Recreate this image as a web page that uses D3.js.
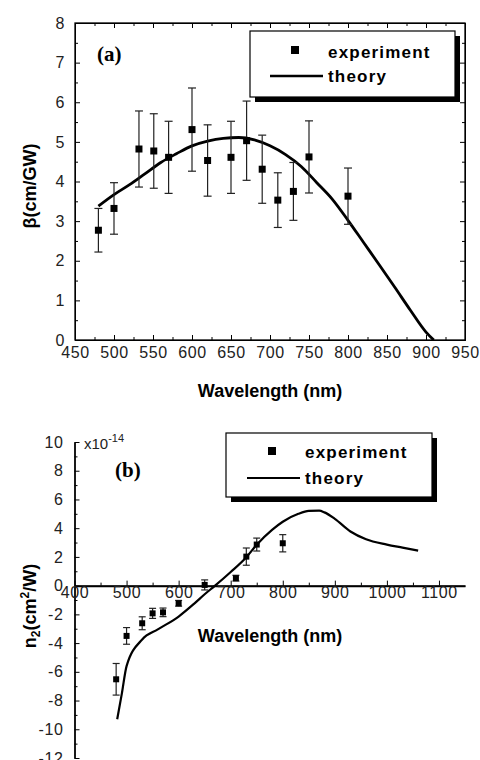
<!DOCTYPE html>
<html>
<head>
<meta charset="utf-8">
<script src="https://cdn.jsdelivr.net/npm/d3@7"></script>
<style>
  body { margin: 0; background: #fff; }
  svg { display: block; font-family: "Liberation Sans", Arial, sans-serif; }
  .tick text { font-size: 16px; letter-spacing: 0.6px; fill: #222; }
  .axisTitle { font-size: 18px; font-weight: bold; }
  .legendText { font-size: 17px; font-weight: bold; letter-spacing: 1.2px; }
  .panelTag { font-family: "Liberation Serif", "Times New Roman", serif; font-size: 21px; font-weight: bold; }
</style>
</head>
<body>
<div id="chart"></div>
<script>
// panel (a): two photon absorption
var aWave = [480, 500, 532, 551, 570, 600, 620, 650, 670, 690, 710, 730, 750, 800];
var aBeta = [2.77, 3.32, 4.82, 4.77, 4.61, 5.31, 4.53, 4.61, 5.03, 4.31, 3.53, 3.75, 4.62, 3.63];
var aErr = [0.55, 0.65, 0.96, 0.94, 0.91, 1.05, 0.9, 0.91, 1.0, 0.86, 0.69, 0.73, 0.91, 0.71];
var aTheoryWave = [480, 500, 520, 540, 560, 580, 600, 620, 640, 660, 680, 700, 720, 740, 760, 780, 800, 820, 840, 860, 880, 900, 910];
var aTheoryBeta = [3.38, 3.67, 3.92, 4.2, 4.48, 4.7, 4.9, 5.02, 5.09, 5.11, 5.05, 4.9, 4.68, 4.38, 3.97, 3.55, 3.02, 2.46, 1.9, 1.33, 0.75, 0.2, 0];
var aXTicks = [450, 500, 550, 600, 650, 700, 750, 800, 850, 900, 950];
var aYTicks = [0, 1, 2, 3, 4, 5, 6, 7, 8];

// panel (b): nonlinear refraction
var bWave = [480, 500, 530, 550, 570, 600, 650, 710, 730, 750, 800];
var bN2 = [-6.52, -3.5, -2.62, -1.93, -1.86, -1.23, 0.05, 0.52, 2.02, 2.86, 2.95];
var bErr = [1.1, 0.58, 0.45, 0.35, 0.3, 0.2, 0.35, 0.2, 0.6, 0.45, 0.6];
var bTheoryWave = [482, 491, 500, 530, 560, 600, 630, 650, 670, 700, 730, 750, 780, 800, 830, 850, 870, 880, 900, 930, 960, 1000, 1030, 1060];
var bTheoryN2 = [-9.3, -7.5, -5.6, -3.75, -3.05, -2.15, -1.25, -0.6, 0, 0.95, 1.98, 2.85, 3.9, 4.45, 5.0, 5.2, 5.22, 5.1, 4.65, 3.77, 3.23, 2.86, 2.65, 2.44];
var bXTicks = [400, 500, 600, 700, 800, 900, 1000, 1100];
var bYTicks = [-12, -10, -8, -6, -4, -2, 0, 2, 4, 6, 8, 10];

var svgWidth = 480;
var svgHeight = 760;

// plain labels, hyphen minus, no thousands comma
var plain = function(d) { return String(d); };

var svg = d3.select("#chart")
  .append("svg")
  .attr("width", svgWidth)
  .attr("height", svgHeight);

// ---------- panel (a) ----------
var xA = d3.scaleLinear().domain([450, 950]).range([75, 465]);
var yA = d3.scaleLinear().domain([0, 8]).range([340, 23]);

var gA = svg.append("g");

// frame
gA.append("rect")
  .attr("x", 75).attr("y", 23)
  .attr("width", 390).attr("height", 317)
  .attr("fill", "none").attr("stroke", "#000").attr("stroke-width", 1.3);

// minor ticks on all four sides
gA.append("g").attr("transform", "translate(0,340)")
  .call(d3.axisBottom(xA).tickValues(d3.range(475, 950, 50)).tickSize(-3).tickSizeOuter(0).tickFormat(""));
gA.append("g").attr("transform", "translate(0,23)")
  .call(d3.axisTop(xA).tickValues(d3.range(475, 950, 50)).tickSize(-3).tickSizeOuter(0).tickFormat(""));
gA.append("g").attr("transform", "translate(75,0)")
  .call(d3.axisLeft(yA).tickValues(d3.range(0.5, 8, 1)).tickSize(-3).tickSizeOuter(0).tickFormat(""));
gA.append("g").attr("transform", "translate(465,0)")
  .call(d3.axisRight(yA).tickValues(d3.range(0.5, 8, 1)).tickSize(-3).tickSizeOuter(0).tickFormat(""));

// major ticks
gA.append("g").attr("transform", "translate(0,340)")
  .call(d3.axisBottom(xA).tickValues(aXTicks).tickFormat(plain).tickSize(-5).tickSizeOuter(0).tickPadding(7));
gA.append("g").attr("transform", "translate(0,23)")
  .call(d3.axisTop(xA).tickValues(aXTicks).tickSize(-5).tickSizeOuter(0).tickFormat(""));
gA.append("g").attr("transform", "translate(75,0)")
  .call(d3.axisLeft(yA).tickValues(aYTicks).tickFormat(plain).tickSize(-5).tickSizeOuter(0).tickPadding(10));
gA.append("g").attr("transform", "translate(465,0)")
  .call(d3.axisRight(yA).tickValues(aYTicks).tickSize(-5).tickSizeOuter(0).tickFormat(""));

// theory curve
gA.append("path")
  .datum(aTheoryWave.map(function(w, i) { return [w, aTheoryBeta[i]]; }))
  .attr("fill", "none")
  .attr("stroke", "#000")
  .attr("stroke-width", 2.8)
  .attr("d", d3.line().x(d => xA(d[0])).y(d => yA(d[1])).curve(d3.curveMonotoneX));

// error bars + points
var aPts = aWave.map(function(w, i) { return { w: w, v: aBeta[i], e: aErr[i] }; });
var aBars = gA.selectAll(".errA").data(aPts).enter().append("g").attr("class", "errA");
aBars.append("line")
  .attr("x1", d => xA(d.w)).attr("x2", d => xA(d.w))
  .attr("y1", d => yA(d.v - d.e)).attr("y2", d => yA(d.v + d.e))
  .attr("stroke", "#222").attr("stroke-width", 1.2);
aBars.append("line")
  .attr("x1", d => xA(d.w) - 4).attr("x2", d => xA(d.w) + 4)
  .attr("y1", d => yA(d.v + d.e)).attr("y2", d => yA(d.v + d.e))
  .attr("stroke", "#222").attr("stroke-width", 1.2);
aBars.append("line")
  .attr("x1", d => xA(d.w) - 4).attr("x2", d => xA(d.w) + 4)
  .attr("y1", d => yA(d.v - d.e)).attr("y2", d => yA(d.v - d.e))
  .attr("stroke", "#222").attr("stroke-width", 1.2);
aBars.append("rect")
  .attr("x", d => xA(d.w) - 3.5).attr("y", d => yA(d.v) - 3.5)
  .attr("width", 7).attr("height", 7).attr("fill", "#000");

// legend (a)
gA.append("rect").attr("x", 255).attr("y", 36).attr("width", 205).attr("height", 66).attr("fill", "#000");
gA.append("rect").attr("x", 250).attr("y", 31).attr("width", 205).attr("height", 66)
  .attr("fill", "#fff").attr("stroke", "#000").attr("stroke-width", 1.2);
gA.append("rect").attr("x", 291).attr("y", 46).attr("width", 8).attr("height", 8).attr("fill", "#000");
gA.append("text").attr("class", "legendText").attr("x", 328).attr("y", 58).text("experiment");
gA.append("line").attr("x1", 270).attr("x2", 323).attr("y1", 76).attr("y2", 76)
  .attr("stroke", "#000").attr("stroke-width", 2.5);
gA.append("text").attr("class", "legendText").attr("x", 328).attr("y", 82).text("theory");

gA.append("text").attr("class", "panelTag").attr("x", 97).attr("y", 61).text("(a)");

gA.append("text")
  .attr("class", "axisTitle")
  .attr("x", 270).attr("y", 397)
  .attr("text-anchor", "middle")
  .text("Wavelength (nm)");

gA.append("text")
  .attr("class", "axisTitle")
  .attr("transform", "translate(36,186) rotate(-90)")
  .attr("text-anchor", "middle")
  .text("β(cm/GW)");

// ---------- panel (b) ----------
var xB = d3.scaleLinear().domain([400, 1150]).range([74.5, 465]);
var yB = d3.scaleLinear().domain([-12, 10]).range([758, 442]);

var gB = svg.append("g");

// minor ticks
gB.append("g").attr("transform", "translate(" + xB(400) + ",0)")
  .call(d3.axisLeft(yB).tickValues(d3.range(-11, 10, 2)).tickSize(-3).tickSizeOuter(0).tickFormat(""));
gB.append("g").attr("transform", "translate(0," + yB(0) + ")")
  .call(d3.axisBottom(xB).tickValues(d3.range(450, 1150, 100)).tickSize(-3).tickSizeOuter(0).tickFormat(""));

// major ticks
var yAxisB = gB.append("g").attr("transform", "translate(" + xB(400) + ",0)")
  .call(d3.axisLeft(yB).tickValues(bYTicks).tickFormat(plain).tickSize(-5).tickSizeOuter(0).tickPadding(11));
var xAxisB = gB.append("g").attr("transform", "translate(0," + yB(0) + ")")
  .call(d3.axisBottom(xB).tickValues(bXTicks).tickFormat(plain).tickSize(-5).tickSizeOuter(0).tickPadding(1));
yAxisB.select(".domain").attr("stroke-width", 1.6);
xAxisB.select(".domain").attr("stroke-width", 2);

// theory curve
gB.append("path")
  .datum(bTheoryWave.map(function(w, i) { return [w, bTheoryN2[i]]; }))
  .attr("fill", "none")
  .attr("stroke", "#000")
  .attr("stroke-width", 2.2)
  .attr("d", d3.line().x(d => xB(d[0])).y(d => yB(d[1])).curve(d3.curveMonotoneX));

var bPts = bWave.map(function(w, i) { return { w: w, v: bN2[i], e: bErr[i] }; });
var bBars = gB.selectAll(".errB").data(bPts).enter().append("g").attr("class", "errB");
bBars.append("line")
  .attr("x1", d => xB(d.w)).attr("x2", d => xB(d.w))
  .attr("y1", d => yB(d.v - d.e)).attr("y2", d => yB(d.v + d.e))
  .attr("stroke", "#222").attr("stroke-width", 1.2);
bBars.append("line")
  .attr("x1", d => xB(d.w) - 3.5).attr("x2", d => xB(d.w) + 3.5)
  .attr("y1", d => yB(d.v + d.e)).attr("y2", d => yB(d.v + d.e))
  .attr("stroke", "#222").attr("stroke-width", 1.2);
bBars.append("line")
  .attr("x1", d => xB(d.w) - 3.5).attr("x2", d => xB(d.w) + 3.5)
  .attr("y1", d => yB(d.v - d.e)).attr("y2", d => yB(d.v - d.e))
  .attr("stroke", "#222").attr("stroke-width", 1.2);
bBars.append("rect")
  .attr("x", d => xB(d.w) - 3).attr("y", d => yB(d.v) - 3)
  .attr("width", 6).attr("height", 6).attr("fill", "#000");

// legend (b)
gB.append("rect").attr("x", 231).attr("y", 438).attr("width", 206).attr("height", 64).attr("fill", "#000");
gB.append("rect").attr("x", 226).attr("y", 433).attr("width", 206).attr("height", 64)
  .attr("fill", "#fff").attr("stroke", "#000").attr("stroke-width", 1.2);
gB.append("rect").attr("x", 268).attr("y", 447).attr("width", 8).attr("height", 8).attr("fill", "#000");
gB.append("text").attr("class", "legendText").attr("x", 305).attr("y", 458).text("experiment");
gB.append("line").attr("x1", 247).attr("x2", 300).attr("y1", 478).attr("y2", 478)
  .attr("stroke", "#000").attr("stroke-width", 2.2);
gB.append("text").attr("class", "legendText").attr("x", 305).attr("y", 484).text("theory");

gB.append("text").attr("class", "panelTag").attr("x", 115).attr("y", 477).text("(b)");

// multiplier
var mult = gB.append("text").attr("x", 84).attr("y", 449).attr("font-size", 15).attr("fill", "#222");
mult.append("tspan").text("x10");
mult.append("tspan").attr("font-size", 11).attr("dy", -7).text("-14");

gB.append("text")
  .attr("class", "axisTitle")
  .attr("x", 270).attr("y", 642)
  .attr("text-anchor", "middle")
  .text("Wavelength (nm)");

var yTitleB = gB.append("text")
  .attr("class", "axisTitle")
  .attr("transform", "translate(36,606) rotate(-90)")
  .attr("text-anchor", "middle");
yTitleB.append("tspan").text("n");
yTitleB.append("tspan").attr("font-size", 12).attr("dy", 4).text("2");
yTitleB.append("tspan").attr("dy", -4).text("(cm");
yTitleB.append("tspan").attr("font-size", 12).attr("dy", -7).text("2");
yTitleB.append("tspan").attr("dy", 7).text("/W)");
</script>
</body>
</html>
